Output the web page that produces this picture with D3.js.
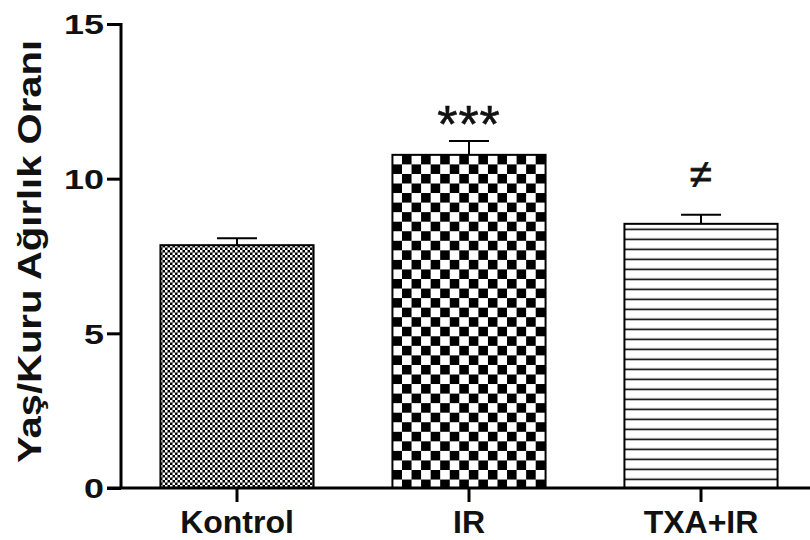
<!DOCTYPE html>
<html>
<head>
<meta charset="utf-8">
<script src="https://cdn.jsdelivr.net/npm/d3@7"></script>
<style>
  body { margin: 0; background: #fff; }
  text { font-family: "Liberation Sans", Arial, sans-serif; font-weight: bold; fill: #111; }
</style>
</head>
<body>
<div id="chart"></div>
<script>
const categories = ["Kontrol", "IR", "TXA+IR"];
const means = [7.85, 10.77, 8.54];
const sems = [0.22, 0.45, 0.29];
const marks = ["", "***", "≠"];
const yTicks = [0, 5, 10, 15];
const patterns = ["fineCheck", "bigCheck", "hLines"];

const width = 810;
const height = 540;

const data = categories.map((c, i) => ({
  name: c, mean: means[i], sem: sems[i], mark: marks[i], pattern: patterns[i]
}));

const svg = d3.select("#chart")
  .append("svg")
  .attr("width", width)
  .attr("height", height);

svg.append("rect").attr("width", width).attr("height", height).attr("fill", "#fff");

// scales
const xScale = d3.scaleBand()
  .domain(categories)
  .range([121, 817])
  .paddingInner(0.34)
  .paddingOuter(0.17);

const yScale = d3.scaleLinear().domain([0, 15]).range([488, 24]);

// fill patterns
const defs = svg.append("defs");

const fine = defs.append("pattern")
  .attr("id", "fineCheck")
  .attr("patternUnits", "userSpaceOnUse")
  .attr("width", 5).attr("height", 5);
fine.append("rect").attr("width", 5).attr("height", 5).attr("fill", "#000");
fine.append("rect").attr("x", 0).attr("y", 0).attr("width", 2.5).attr("height", 2.5).attr("fill", "#fff");
fine.append("rect").attr("x", 2.5).attr("y", 2.5).attr("width", 2.5).attr("height", 2.5).attr("fill", "#fff");

const irTop = yScale(means[1]);
const big = defs.append("pattern")
  .attr("id", "bigCheck")
  .attr("patternUnits", "userSpaceOnUse")
  .attr("x", xScale("IR")).attr("y", irTop)
  .attr("width", 19.1).attr("height", 19.1);
big.append("rect").attr("width", 19.1).attr("height", 19.1).attr("fill", "#fff");
big.append("rect").attr("x", 9.55).attr("y", 0).attr("width", 9.55).attr("height", 9.55).attr("fill", "#000");
big.append("rect").attr("x", 0).attr("y", 9.55).attr("width", 9.55).attr("height", 9.55).attr("fill", "#000");

const txaTop = yScale(means[2]);
const lines = defs.append("pattern")
  .attr("id", "hLines")
  .attr("patternUnits", "userSpaceOnUse")
  .attr("x", 0).attr("y", txaTop)
  .attr("width", 10).attr("height", 10);
lines.append("rect").attr("width", 10).attr("height", 10).attr("fill", "#fff");
lines.append("line")
  .attr("x1", 0).attr("x2", 10)
  .attr("y1", 5.5).attr("y2", 5.5)
  .attr("stroke", "#000").attr("stroke-width", 1.6);

// bars
svg.selectAll(".bar")
  .data(data)
  .join("rect")
  .attr("class", "bar")
  .attr("x", d => xScale(d.name))
  .attr("y", d => yScale(d.mean))
  .attr("width", xScale.bandwidth())
  .attr("height", d => yScale(0) - yScale(d.mean))
  .attr("fill", d => `url(#${d.pattern})`)
  .attr("stroke", "#000")
  .attr("stroke-width", 2);

// error bars (upper only)
const capW = 40;
const err = svg.selectAll(".err")
  .data(data)
  .join("g")
  .attr("class", "err")
  .attr("stroke", "#000")
  .attr("stroke-width", 2);

err.append("line")
  .attr("x1", d => xScale(d.name) + xScale.bandwidth() / 2)
  .attr("x2", d => xScale(d.name) + xScale.bandwidth() / 2)
  .attr("y1", d => yScale(d.mean))
  .attr("y2", d => yScale(d.mean + d.sem));

err.append("line")
  .attr("x1", d => xScale(d.name) + xScale.bandwidth() / 2 - capW / 2)
  .attr("x2", d => xScale(d.name) + xScale.bandwidth() / 2 + capW / 2)
  .attr("y1", d => yScale(d.mean + d.sem))
  .attr("y2", d => yScale(d.mean + d.sem));

// significance marks
svg.append("text")
  .attr("x", xScale("IR") + xScale.bandwidth() / 2)
  .attr("y", yScale(means[1] + sems[1]) + 1)
  .attr("text-anchor", "middle")
  .attr("font-size", 52)
  .style("font-weight", "normal")
  .attr("stroke", "#111")
  .attr("stroke-width", 0.6)
  .attr("letter-spacing", 1)
  .text(marks[1]);

svg.append("text")
  .attr("x", xScale("TXA+IR") + xScale.bandwidth() / 2)
  .attr("y", 188)
  .attr("text-anchor", "middle")
  .attr("font-size", 40)
  .attr("stroke", "#111")
  .attr("stroke-width", 0.8)
  .style("font-weight", "normal")
  .text(marks[2]);

// y axis
const yAxis = d3.axisLeft(yScale).tickValues(yTicks).tickSize(14).tickSizeOuter(0).tickPadding(4);
const yAxisGroup = svg.append("g")
  .attr("class", "y-axis")
  .attr("transform", "translate(121,0)")
  .call(yAxis);
yAxisGroup.select(".domain").attr("stroke", "#000").attr("stroke-width", 3)
  .attr("d", `M0,${yScale(15) - 1}V${yScale(0)}`);
yAxisGroup.selectAll(".tick line").attr("stroke", "#000").attr("stroke-width", 3);
yAxisGroup.selectAll(".tick text")
  .attr("font-size", 27)
  .attr("font-family", null)
  .attr("x", -17)
  .attr("dy", "0.36em")
  .attr("textLength", d => String(d).length * 20)
  .attr("lengthAdjust", "spacingAndGlyphs");

// x axis
const xAxis = d3.axisBottom(xScale).tickSize(14).tickSizeOuter(0);
const xAxisGroup = svg.append("g")
  .attr("class", "x-axis")
  .attr("transform", `translate(0,${yScale(0)})`)
  .call(xAxis);
xAxisGroup.select(".domain").remove();
xAxisGroup.append("line")
  .attr("x1", xScale.range()[0] - 14)
  .attr("x2", width)
  .attr("stroke", "#000")
  .attr("stroke-width", 3);
xAxisGroup.selectAll(".tick line").attr("stroke", "#000").attr("stroke-width", 3);
xAxisGroup.selectAll(".tick text")
  .attr("font-size", 32)
  .attr("font-family", null)
  .attr("y", 45)
  .attr("dy", 0);

// y axis title
svg.append("text")
  .attr("transform", "translate(41,251.5) rotate(-90)")
  .attr("text-anchor", "middle")
  .attr("font-size", 33)
  .attr("textLength", 423)
  .attr("lengthAdjust", "spacingAndGlyphs")
  .text("Yaş/Kuru Ağırlık Oranı");
</script>
</body>
</html>
